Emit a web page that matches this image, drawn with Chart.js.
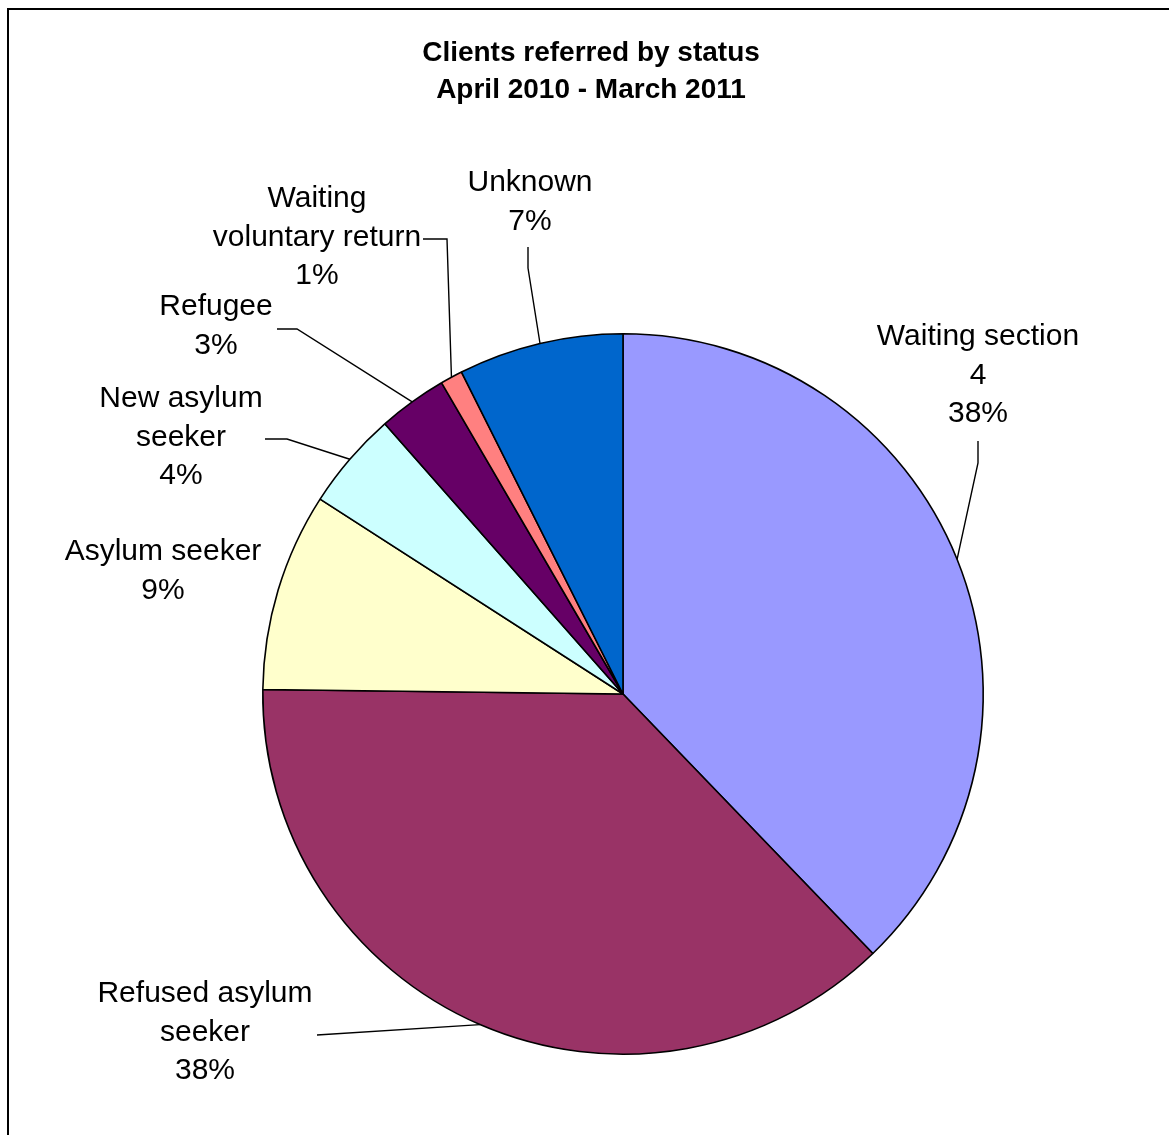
<!DOCTYPE html>
<html>
<head>
<meta charset="utf-8">
<title>Clients referred by status</title>
<script src="https://cdn.jsdelivr.net/npm/chart.js@4.4.1/dist/chart.umd.min.js"></script>
<style>
  html, body { margin: 0; padding: 0; background: #fff; }
  canvas { display: block; }
</style>
</head>
<body>
<canvas id="pieCanvas" width="1169" height="1135"></canvas>
<script>
const categories = ['Waiting section 4', 'Refused asylum seeker', 'Asylum seeker', 'New asylum seeker', 'Refugee', 'Waiting voluntary return', 'Unknown'];
const shares = [37.8, 37.4, 8.9, 4.4, 3.1, 1.0, 7.4];
const shareLabels = ['38%', '38%', '9%', '4%', '3%', '1%', '7%'];
const labelLines = [
  ['Waiting section', '4'],
  ['Refused asylum', 'seeker'],
  ['Asylum seeker'],
  ['New asylum', 'seeker'],
  ['Refugee'],
  ['Waiting', 'voluntary return'],
  ['Unknown']
];
const sliceColors = ['#9999FF', '#993366', '#FFFFCC', '#CCFFFF', '#660066', '#FF8080', '#0066CC'];

// where each label sits and the bends of its leader line (layout only)
const labelLayout = [
  { x: 978, y: 337, leader: [[978, 441], [978, 463]] },
  { x: 205, y: 994, leader: [[317, 1035]] },
  { x: 163, y: 552, leader: null },
  { x: 181, y: 399, leader: [[265, 439], [287, 439]] },
  { x: 216, y: 307, leader: [[277, 329], [297, 329]] },
  { x: 317, y: 199, leader: [[423, 239], [447, 239]] },
  { x: 530, y: 183, leader: [[528, 247], [528, 268]] }
];

const titleLines = ['Clients referred by status', 'April 2010 - March 2011'];
const labelFont = '30px "Liberation Sans", Arial, sans-serif';
const lineGap = 38.5;

// Labels, leader lines, title and frame
const decorPlugin = {
  id: 'decor',
  afterDraw(chart) {
    const ctx = chart.ctx;
    const arcs = chart.getDatasetMeta(0).data;
    ctx.save();

    // frame
    ctx.strokeStyle = '#000';
    ctx.lineWidth = 2;
    ctx.strokeRect(8, 9, 1300, 1300);

    // title
    ctx.fillStyle = '#000';
    ctx.textAlign = 'center';
    ctx.textBaseline = 'middle';
    ctx.font = 'bold 28px "Liberation Sans", Arial, sans-serif';
    titleLines.forEach((t, i) => ctx.fillText(t, 591, 53 + i * 37));

    // data labels
    ctx.font = labelFont;
    arcs.forEach((arc, i) => {
      const lay = labelLayout[i];
      const lines = labelLines[i].concat([shareLabels[i]]);
      lines.forEach((t, j) => ctx.fillText(t, lay.x, lay.y + j * lineGap));

      if (lay.leader) {
        const p = arc.getProps(['x', 'y', 'startAngle', 'endAngle', 'outerRadius'], true);
        const mid = (p.startAngle + p.endAngle) / 2;
        const ex = p.x + Math.cos(mid) * p.outerRadius;
        const ey = p.y + Math.sin(mid) * p.outerRadius;
        ctx.beginPath();
        ctx.lineWidth = 1.4;
        ctx.strokeStyle = '#000';
        ctx.moveTo(lay.leader[0][0], lay.leader[0][1]);
        lay.leader.slice(1).forEach(pt => ctx.lineTo(pt[0], pt[1]));
        ctx.lineTo(ex, ey);
        ctx.stroke();
      }
    });
    ctx.restore();
  }
};

const ctx = document.getElementById('pieCanvas').getContext('2d');
const pieChart = new Chart(ctx, {
  type: 'pie',
  data: {
    labels: categories,
    datasets: [{
      data: shares,
      backgroundColor: sliceColors,
      borderColor: '#000',
      borderWidth: 1.6
    }]
  },
  options: {
    responsive: false,
    animation: false,
    devicePixelRatio: 1,
    layout: {
      padding: { left: 262, right: 185, top: 333, bottom: 80 }
    },
    plugins: {
      legend: { display: false },
      title: { display: false },
      tooltip: { enabled: false }
    }
  },
  plugins: [decorPlugin]
});
</script>
</body>
</html>
